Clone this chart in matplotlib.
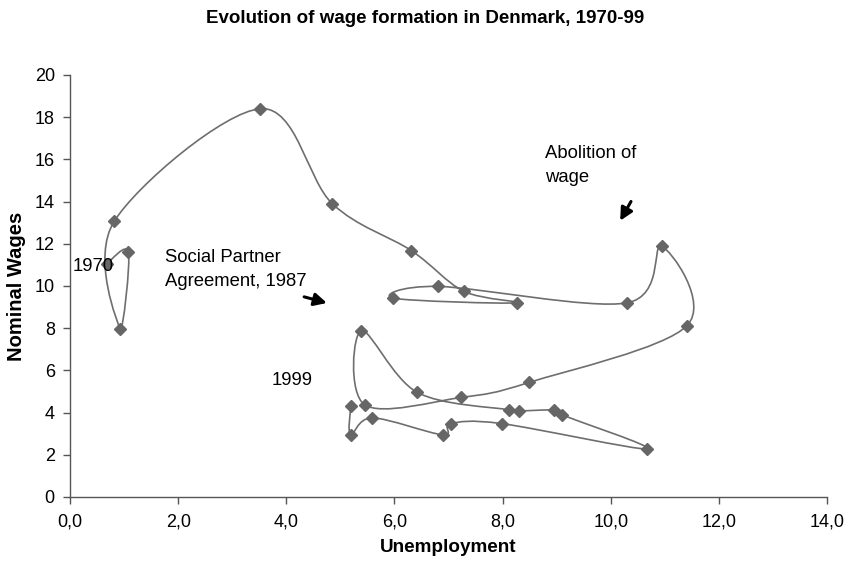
import numpy as np
import matplotlib
matplotlib.use("Agg")
import matplotlib.pyplot as plt
from matplotlib.path import Path
from matplotlib.patches import PathPatch

plt.rcParams['font.family'] = ['Liberation Sans', 'DejaVu Sans']

years = list(range(1970, 2000))
unemployment = [0.68, 1.08, 0.93, 0.82, 3.52, 4.85, 6.31, 7.28, 8.26, 5.98,
                6.81, 10.30, 10.94, 11.41, 8.49, 7.24, 5.45, 5.39, 6.42, 8.12,
                8.30, 8.96, 9.09, 10.67, 7.98, 7.04, 6.89, 5.59, 5.19, 5.19]
nominal_wages = [11.06, 11.60, 7.95, 13.08, 18.40, 13.90, 11.68, 9.75, 9.20, 9.42,
                 9.98, 9.20, 11.88, 8.12, 5.43, 4.72, 4.37, 7.89, 4.96, 4.13,
                 4.08, 4.12, 3.90, 2.28, 3.48, 3.48, 2.95, 3.75, 2.95, 4.29]

x_ticks = [0, 2, 4, 6, 8, 10, 12, 14]
x_tick_labels = ["0,0", "2,0", "4,0", "6,0", "8,0", "10,0", "12,0", "14,0"]
y_ticks = list(range(0, 21, 2))

fig = plt.figure(figsize=(8.51, 5.71), dpi=100)
ax = fig.add_axes([0.0823, 0.1296, 0.8895, 0.7391])

# smoothed connecting line (Catmull-Rom as Bezier)
P = np.column_stack([unemployment, nominal_wages])
n = len(P)
verts = [tuple(P[0])]
codes = [Path.MOVETO]
for i in range(n - 1):
    p0 = P[i - 1] if i > 0 else P[i]
    p1 = P[i]
    p2 = P[i + 1]
    p3 = P[i + 2] if i + 2 < n else P[i + 1]
    c1 = p1 + (p2 - p0) / 6.0
    c2 = p2 - (p3 - p1) / 6.0
    verts += [tuple(c1), tuple(c2), tuple(p2)]
    codes += [Path.CURVE4] * 3
ax.add_patch(PathPatch(Path(verts, codes), facecolor='none', edgecolor='#6e6e6e', lw=1.2, zorder=2))
ax.plot(unemployment, nominal_wages, linestyle='none', marker='D', markersize=6,
        color='#666666', markeredgecolor='#666666', zorder=3)

ax.set_xlim(0, 14)
ax.set_ylim(0, 20)
ax.set_xticks(x_ticks)
ax.set_xticklabels(x_tick_labels)
ax.set_yticks(y_ticks)
for s in ['top', 'right']:
    ax.spines[s].set_visible(False)
for s in ['left', 'bottom']:
    ax.spines[s].set_color('#555555')
    ax.spines[s].set_linewidth(1.0)
ax.tick_params(axis='both', direction='out', length=5, width=1.0, color='#555555',
               labelsize=13)
ax.tick_params(axis='x', pad=7)
ax.tick_params(axis='y', pad=6)

ax.set_xlabel("Unemployment", fontsize=13.6, fontweight='bold', labelpad=6)
ax.set_ylabel("Nominal Wages", fontsize=14.5, fontweight='bold', labelpad=6)
fig.text(0.5, 0.968, "Evolution of wage formation in Denmark, 1970-99", fontsize=13.5,
         fontweight='bold', ha='center', va='center')

ax.text(0.055, 10.93, "1970", fontsize=13.3, va='center', ha='left', zorder=4)
ax.text(1.76, 10.8, "Social Partner\nAgreement, 1987", fontsize=13.3, va='center',
        ha='left', linespacing=1.55)
ax.text(8.78, 15.71, "Abolition of\nwage", fontsize=13.3, va='center', ha='left',
        linespacing=1.55)
ax.text(3.72, 5.52, "1999", fontsize=13.3, va='center', ha='left')

arrow_kw = dict(arrowstyle='-|>,head_length=0.75,head_width=0.38', color='black', lw=2.2)
ax.annotate("", xy=(4.80, 9.16), xytext=(4.28, 9.52), arrowprops=arrow_kw)
ax.annotate("", xy=(10.15, 12.98), xytext=(10.40, 14.12), arrowprops=arrow_kw)

fig.savefig("out.png", dpi=100)
